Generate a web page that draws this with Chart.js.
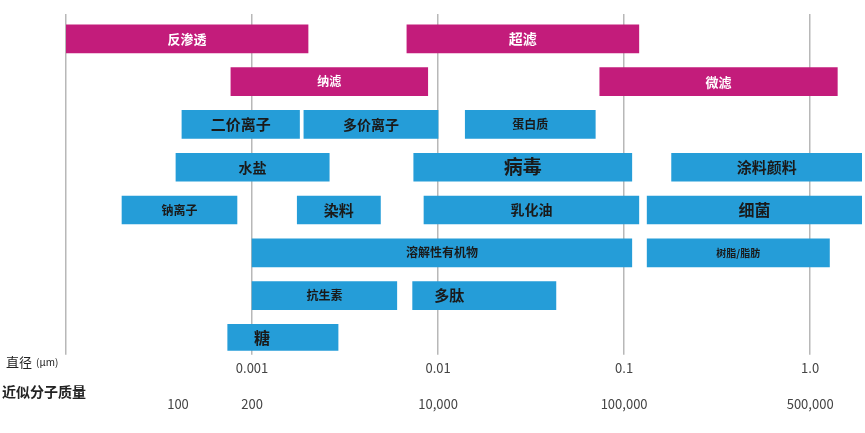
<!DOCTYPE html>
<html>
<head>
<meta charset="utf-8">
<script src="https://cdn.jsdelivr.net/npm/chart.js@4"></script>
<style>
  html, body { margin: 0; background: #fff; }
</style>
</head>
<body>
<canvas id="chart" width="865" height="433"></canvas>
<script>
// membrane processes (magenta bars): row number, size range in µm
const membranes = ["反渗透", "超滤", "纳滤", "微滤"];
const membraneRow = [0, 0, 1, 1];
const membraneFrom = [0.0001, 0.0068, 0.00077, 0.074];
const membraneTo = [0.002, 0.12, 0.0088, 1.4];

// substances (blue bars)
const substances = ["二价离子", "多价离子", "蛋白质", "水盐", "病毒", "涂料颜料",
  "钠离子", "染料", "乳化油", "细菌", "溶解性有机物", "树脂/脂肪", "抗生素", "多肽", "糖"];
const substanceRow = [2, 2, 2, 3, 3, 3, 4, 4, 4, 4, 5, 5, 6, 6, 7];
const substanceFrom = [0.00042, 0.0019, 0.014, 0.00039, 0.0074, 0.18,
  0.0002, 0.00175, 0.0084, 0.133, 0.001, 0.133, 0.001, 0.0073, 0.00074];
const substanceTo = [0.0018, 0.01, 0.07, 0.0026, 0.11, 1.9,
  0.00083, 0.0049, 0.12, 1.9, 0.11, 1.27, 0.006, 0.043, 0.0029];

// axis ticks
const sizeTicks = [0.0001, 0.001, 0.01, 0.1, 1];
const sizeLabels = ["", "0.001", "0.01", "0.1", "1.0"];
const weightTicks = [0.0004, 0.001, 0.01, 0.1, 1];
const weightLabels = ["100", "200", "10,000", "100,000", "500,000"];

const MAGENTA = "#c31c7b";
const BLUE = "#259dd8";
const FONT = '"Noto Sans CJK SC", "Noto Sans", sans-serif';

// label look per bar (size in px, dx shift)
const labelStyle = {
  "反渗透": { size: 13 }, "超滤": { size: 14 }, "纳滤": { size: 12 }, "微滤": { size: 13 },
  "二价离子": { size: 15 }, "多价离子": { size: 14 }, "蛋白质": { size: 12 },
  "水盐": { size: 14 }, "病毒": { size: 19 }, "涂料颜料": { size: 15 },
  "钠离子": { size: 12 }, "染料": { size: 15 }, "乳化油": { size: 14 }, "细菌": { size: 16 },
  "溶解性有机物": { size: 12 }, "树脂/脂肪": { size: 10 },
  "抗生素": { size: 12 }, "多肽": { size: 15, dx: -35 }, "糖": { size: 16, dx: -21 },
};

const toBars = (rows, from, to) => rows.map((r, i) => ({ x: [from[i], to[i]], y: r }));

const barLabels = {
  id: "barLabels",
  afterDatasetsDraw(chart) {
    const ctx = chart.ctx;
    chart.data.datasets.forEach((ds, di) => {
      chart.getDatasetMeta(di).data.forEach((bar, i) => {
        const name = ds.names[i];
        const st = labelStyle[name] || {};
        ctx.save();
        ctx.font = `bold ${st.size || 13}px ${FONT}`;
        ctx.fillStyle = ds.textColor;
        ctx.textAlign = "center";
        ctx.textBaseline = "middle";
        ctx.fillText(name, (bar.x + bar.base) / 2 + (st.dx || 0), bar.y);
        ctx.restore();
      });
    });
  },
};

const axisCaptions = {
  id: "axisCaptions",
  afterDraw(chart) {
    const ctx = chart.ctx;
    ctx.save();
    ctx.fillStyle = "#222";
    ctx.textBaseline = "middle";
    ctx.textAlign = "left";
    ctx.font = `13px ${FONT}`;
    ctx.fillText("直径", 6, 362);
    ctx.font = `10px ${FONT}`;
    ctx.fillText("(μm)", 36, 362);
    ctx.font = `bold 14px ${FONT}`;
    ctx.fillText("近似分子质量", 2, 392);
    ctx.restore();
  },
};

new Chart(document.getElementById("chart"), {
  type: "bar",
  data: {
    datasets: [
      {
        data: toBars(membraneRow, membraneFrom, membraneTo),
        names: membranes,
        textColor: "#ffffff",
        backgroundColor: MAGENTA,
        grouped: false,
        barThickness: 28,
      },
      {
        data: toBars(substanceRow, substanceFrom, substanceTo),
        names: substances,
        textColor: "#1a1a1a",
        backgroundColor: BLUE,
        grouped: false,
        barThickness: 28,
      },
    ],
  },
  options: {
    responsive: false,
    animation: false,
    indexAxis: "y",
    layout: { padding: { left: 66, right: 3, top: 14, bottom: 5 } },
    scales: {
      x: {
        type: "logarithmic",
        position: "bottom",
        weight: 0,
        min: 0.0001,
        max: 1.9,
        afterBuildTicks: (scale) => {
          scale.ticks = sizeTicks.map((v) => ({ value: v }));
        },
        grid: { color: "#b8b8b8", lineWidth: 1.5, tickLength: 4 },
        border: { display: false },
        ticks: {
          autoSkip: false,
          maxRotation: 0,
          padding: 5,
          color: "#444",
          font: { family: FONT, size: 13 },
          callback: (v, i) => sizeLabels[i],
        },
      },
      x2: {
        type: "logarithmic",
        position: "bottom",
        axis: "x",
        weight: 1,
        min: 0.0001,
        max: 1.9,
        afterBuildTicks: (scale) => {
          scale.ticks = weightTicks.map((v) => ({ value: v }));
        },
        grid: { display: false, drawTicks: false },
        border: { display: false },
        ticks: {
          autoSkip: false,
          maxRotation: 0,
          padding: 16,
          color: "#444",
          font: { family: FONT, size: 13 },
          callback: (v, i) => weightLabels[i],
        },
      },
      y: {
        type: "linear",
        reverse: true,
        offset: false,
        min: -0.58,
        max: 7.29,
        display: false,
      },
    },
    plugins: {
      legend: { display: false },
      tooltip: { enabled: false },
    },
  },
  plugins: [barLabels, axisCaptions],
});
</script>
</body>
</html>
